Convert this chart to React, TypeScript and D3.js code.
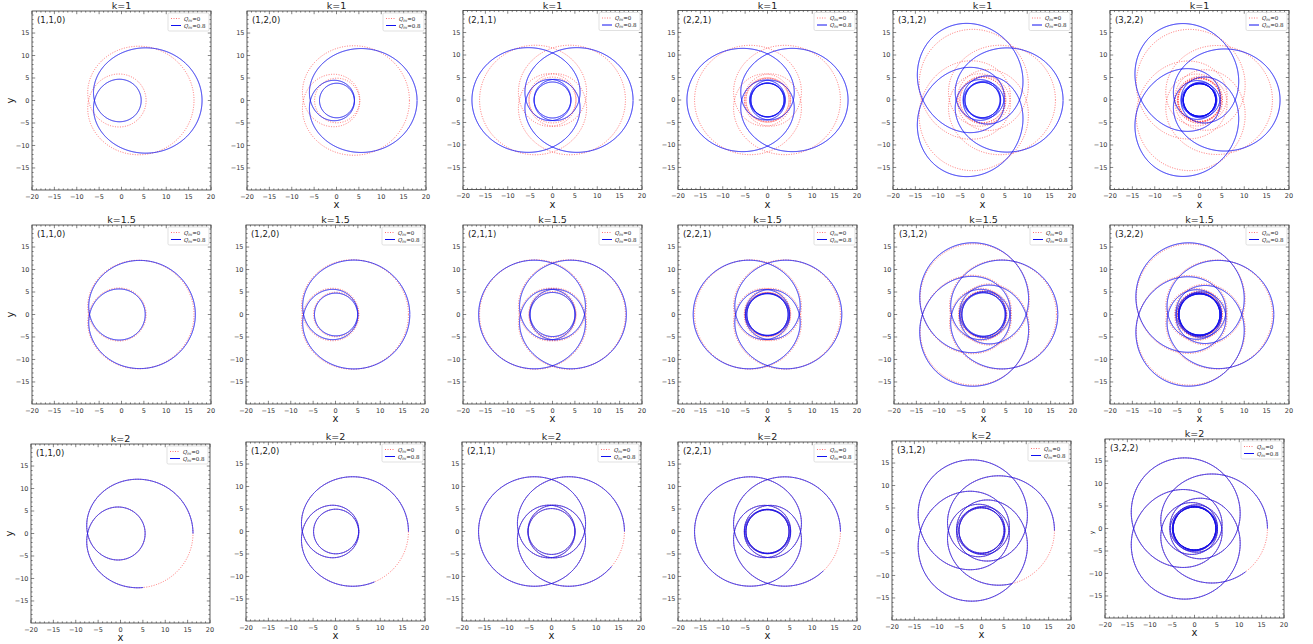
import { useEffect, useRef } from "react";
import * as d3 from "d3";

// row titles and orbit labels
const kLabels = ["k=1", "k=1.5", "k=2"];
const orbitLabels = ["(1,1,0)", "(1,2,0)", "(2,1,1)", "(2,2,1)", "(3,1,2)", "(3,2,2)"];
const zwv = [
  [1, 1, 0],
  [1, 2, 0],
  [2, 1, 1],
  [2, 2, 1],
  [3, 1, 2],
  [3, 2, 2],
];

// Q_m = 0 orbit: apoapsis / periapsis (same in every row)
const redApo = [16.2, 16.3, 16.3, 16.3, 16.3, 16.3];
const redPeri = [5.5, 4.9, 5.1, 4.8, 5.0, 4.75];

// Q_m = 0.8 orbit, one row per k
const blueApo = [
  [18, 18, 18, 18, 18, 18],
  [16.5, 16.6, 16.5, 16.6, 16.6, 16.6],
  [16.2, 16.3, 16.3, 16.3, 16.3, 16.3],
];
const bluePeri = [
  [4.4, 3.8, 4.0, 3.7, 3.9, 3.6],
  [5.3, 4.7, 4.9, 4.6, 4.8, 4.55],
  [5.5, 4.9, 5.1, 4.8, 5.0, 4.75],
];
// degrees of azimuth missing at the end of the Q_m = 0.8 curve
const blueCut = [
  [0, 0, 0, 0, 0, 0],
  [0, 0, 0, 0, 0, 0],
  [67, 52, 30, 35, 60, 40],
];

const xTicks = [-20, -15, -10, -5, 0, 5, 10, 15, 20];
const yTicks = [-15, -10, -5, 0, 5, 10, 15];

// panel boxes (px)
const panelLefts = [
  [32, 247, 463, 678, 893, 1110],
  [32, 246, 463, 678, 894, 1110],
  [31, 246, 462, 678, 892, 1105],
];
const panelTops = [
  [11, 11, 10.5, 10.5, 10.5, 10.5],
  [225, 225, 225, 225, 225, 225],
  [444, 442, 442, 442, 441, 439],
];
const SIZE = 179;

// solve the orbit constant so that one radial period spans 2*pi*(1+q)
function solveC(ua: number, up: number, q: number) {
  const target = Math.PI * (1 + q);
  const F = (c: number) => {
    const n = 3000;
    let s = 0;
    for (let i = 0; i < n; i++) {
      const chi = ((i + 0.5) * Math.PI) / n;
      const u = ua + ((up - ua) * (1 - Math.cos(chi))) / 2;
      s += 1 / Math.sqrt(1 - c * (ua + up + u));
    }
    return (s * Math.PI) / n;
  };
  let lo = 0,
    hi = (1 / (ua + 2 * up)) * (1 - 1e-12);
  for (let it = 0; it < 60; it++) {
    const mid = (lo + hi) / 2;
    if (F(mid) < target) lo = mid;
    else hi = mid;
  }
  return (lo + hi) / 2;
}

function orbit(ra: number, rp: number, o: number[], cutDeg: number) {
  const [z, w, v] = o;
  const q = w + v / z;
  const ua = 1 / ra,
    up = 1 / rp;
  const c = solveC(ua, up, q);
  const phiTotal = 2 * Math.PI * (z + z * w + v);
  const phiEnd = phiTotal - (cutDeg * Math.PI) / 180;
  const n = 3000 * z;
  const dchi = (2 * Math.PI * z) / n;
  const pts: [number, number][] = [[ra, 0]];
  let phi = 0;
  for (let i = 0; i < n; i++) {
    const chiMid = (i + 0.5) * dchi;
    const uMid = ua + ((up - ua) * (1 - Math.cos(chiMid))) / 2;
    const dphi = dchi / Math.sqrt(1 - c * (ua + up + uMid));
    if (phi + dphi > phiEnd) break;
    phi += dphi;
    const chi = (i + 1) * dchi;
    const u = ua + ((up - ua) * (1 - Math.cos(chi))) / 2;
    const r = 1 / u;
    pts.push([r * Math.cos(phi), r * Math.sin(phi)]);
  }
  return pts;
}

const RED = "#ff3030";
const BLUE = "#1010f0";

const App = () => {
  const svgRef = useRef<SVGSVGElement>(null);

  useEffect(() => {
    const root = d3.select(svgRef.current);
    root.selectAll("*").remove();
    const font = "DejaVu Sans, sans-serif";

    for (let row = 0; row < 3; row++) {
      for (let col = 0; col < 6; col++) {
        const left = panelLefts[row][col];
        const top = panelTops[row][col];
        const x = d3.scaleLinear().domain([-20, 20]).range([left, left + SIZE]);
        const y = d3.scaleLinear().domain([-19.9, 19.9]).range([top + SIZE, top]);
        const g = root.append("g");

        const clipId = `clip-${row}-${col}`;
        g.append("clipPath")
          .attr("id", clipId)
          .append("rect")
          .attr("x", left)
          .attr("y", top)
          .attr("width", SIZE)
          .attr("height", SIZE);

        const line = d3
          .line<[number, number]>()
          .x((d) => x(d[0]))
          .y((d) => y(d[1]));

        const red = orbit(redApo[col], redPeri[col], zwv[col], 0);
        const blue = orbit(blueApo[row][col], bluePeri[row][col], zwv[col], blueCut[row][col]);

        const curves = g.append("g").attr("clip-path", `url(#${clipId})`);
        curves
          .append("path")
          .attr("d", line(red))
          .attr("fill", "none")
          .attr("stroke", RED)
          .attr("stroke-opacity", 0.75)
          .attr("stroke-width", 0.9)
          .attr("stroke-dasharray", "1,1.5");
        curves
          .append("path")
          .attr("d", line(blue))
          .attr("fill", "none")
          .attr("stroke", BLUE)
          .attr("stroke-width", 1);

        // frame
        g.append("rect")
          .attr("x", left)
          .attr("y", top)
          .attr("width", SIZE)
          .attr("height", SIZE)
          .attr("fill", "none")
          .attr("stroke", "#333")
          .attr("stroke-width", 0.8);

        // ticks (inward, all sides)
        const tickG = g.append("g").attr("stroke", "#333").attr("stroke-width", 0.6);
        for (let t = -20; t <= 20; t++) {
          const major = t % 5 === 0;
          const len = major ? 3.2 : 1.6;
          const px = x(t);
          tickG.append("line").attr("x1", px).attr("x2", px).attr("y1", top + SIZE).attr("y2", top + SIZE - len);
          tickG.append("line").attr("x1", px).attr("x2", px).attr("y1", top).attr("y2", top + len);
        }
        for (let t = -19; t <= 19; t++) {
          const major = t % 5 === 0;
          const len = major ? 3.2 : 1.6;
          const py = y(t);
          tickG.append("line").attr("y1", py).attr("y2", py).attr("x1", left).attr("x2", left + len);
          tickG.append("line").attr("y1", py).attr("y2", py).attr("x1", left + SIZE).attr("x2", left + SIZE - len);
        }

        // tick labels
        g.selectAll(".xl")
          .data(xTicks)
          .enter()
          .append("text")
          .attr("x", (d) => x(d))
          .attr("y", top + SIZE + 8.5)
          .attr("text-anchor", "middle")
          .attr("font-family", font)
          .attr("font-size", 6.5)
          .attr("fill", "#333")
          .text((d) => (d < 0 ? `\u2212${-d}` : `${d}`));
        g.selectAll(".yl")
          .data(yTicks)
          .enter()
          .append("text")
          .attr("x", left - 2.5)
          .attr("y", (d) => y(d) + 2.3)
          .attr("text-anchor", "end")
          .attr("font-family", font)
          .attr("font-size", 6.5)
          .attr("fill", "#333")
          .text((d) => (d < 0 ? `\u2212${-d}` : `${d}`));

        // title and orbit label
        g.append("text")
          .attr("x", left + SIZE / 2)
          .attr("y", Math.max(top - 2, 8.8))
          .attr("text-anchor", "middle")
          .attr("font-family", font)
          .attr("font-size", 9.5)
          .attr("fill", "#222")
          .text(kLabels[row]);
        g.append("text")
          .attr("x", left + 5)
          .attr("y", top + 12)
          .attr("font-family", font)
          .attr("font-size", 8.5)
          .attr("fill", "#222")
          .text(orbitLabels[col]);

        // axis labels
        if (col > 0 || row === 2) {
          g.append("text")
            .attr("x", left + SIZE / 2)
            .attr("y", top + SIZE + 18)
            .attr("text-anchor", "middle")
            .attr("font-family", font)
            .attr("font-size", 10)
            .attr("fill", "#222")
            .text("x");
        }
        if (col === 0) {
          g.append("text")
            .attr("transform", `translate(${left - 18},${top + SIZE / 2}) rotate(-90)`)
            .attr("text-anchor", "middle")
            .attr("font-family", font)
            .attr("font-size", 10)
            .attr("fill", "#222")
            .text("y");
        }
        if (row === 2 && col === 5) {
          g.append("text")
            .attr("transform", `translate(${left - 11},${top + SIZE / 2 + 4}) rotate(-90)`)
            .attr("text-anchor", "middle")
            .attr("font-family", font)
            .attr("font-size", 6)
            .attr("fill", "#222")
            .text("y");
        }

        // legend
        const lx = left + SIZE - 43;
        const ly = top + 2;
        const leg = g.append("g");
        leg.append("rect")
          .attr("x", lx)
          .attr("y", ly)
          .attr("width", 41)
          .attr("height", 18)
          .attr("rx", 1.5)
          .attr("fill", "white")
          .attr("fill-opacity", 0.8)
          .attr("stroke", "#ccc")
          .attr("stroke-width", 0.6);
        leg.append("line")
          .attr("x1", lx + 3)
          .attr("x2", lx + 13)
          .attr("y1", ly + 5.5)
          .attr("y2", ly + 5.5)
          .attr("stroke", RED)
          .attr("stroke-opacity", 0.75)
          .attr("stroke-width", 0.9)
          .attr("stroke-dasharray", "1,1.5");
        leg.append("line")
          .attr("x1", lx + 3)
          .attr("x2", lx + 13)
          .attr("y1", ly + 12.5)
          .attr("y2", ly + 12.5)
          .attr("stroke", BLUE)
          .attr("stroke-width", 1);
        ["0", "0.8"].forEach((val, i) => {
          const t = leg
            .append("text")
            .attr("x", lx + 16)
            .attr("y", ly + 7.5 + i * 7)
            .attr("font-family", font)
            .attr("font-size", 5.5)
            .attr("fill", "#222");
          t.append("tspan").attr("font-style", "italic").text("Q");
          t.append("tspan").attr("font-style", "italic").attr("font-size", 4).attr("dy", 1.2).text("m");
          t.append("tspan").attr("dy", -1.2).text(`=${val}`);
        });
      }
    }
  }, []);

  return (
    <svg
      ref={svgRef}
      width={1313}
      height={644}
      style={{ position: "absolute", left: 0, top: 0, background: "white" }}
    ></svg>
  );
};

export default App;
